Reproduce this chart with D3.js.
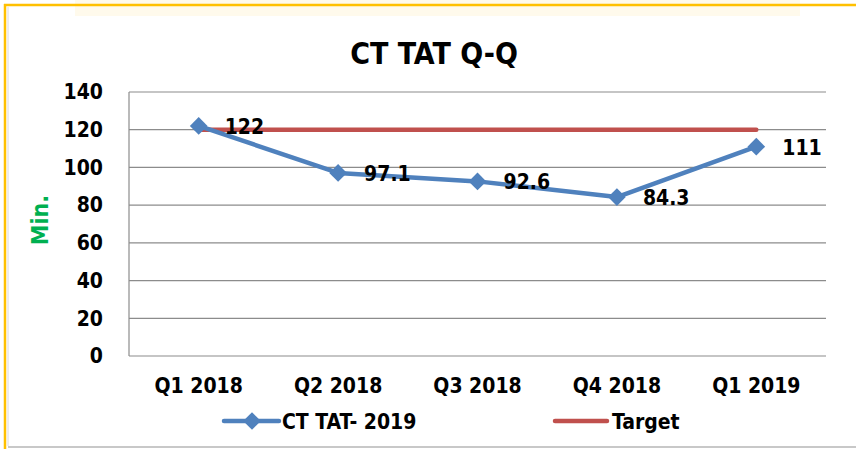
<!DOCTYPE html>
<html>
<head>
<meta charset="utf-8">
<script src="https://cdn.jsdelivr.net/npm/d3@7"></script>
<style>
  body { margin: 0; background: #fff; }
  text { font-family: "Liberation Sans Narrow", "DejaVu Sans Condensed", "Open Sans", sans-serif; font-weight: bold; }
</style>
</head>
<body>
<div id="chart"></div>
<script>
// data
const quarters = ["Q1 2018", "Q2 2018", "Q3 2018", "Q4 2018", "Q1 2019"];
const tatValues = [122, 97.1, 92.6, 84.3, 111];
const targetValues = [120, 120, 120, 120, 120];
const yTicks = [0, 20, 40, 60, 80, 100, 120, 140];

const W = 856, H = 449;
const margin = { top: 92, right: 30, bottom: 93, left: 129 };
const width = W - margin.left - margin.right;
const height = H - margin.top - margin.bottom;

const svg = d3.select("#chart").append("svg")
    .attr("width", W)
    .attr("height", H);

// frame: faint glow on top, gold border, grey shadow at bottom
svg.append("rect").attr("x", 75).attr("y", 0).attr("width", 725).attr("height", 16)
    .attr("fill", "#fffaec");
svg.append("line").attr("x1", 4).attr("x2", W).attr("y1", 5).attr("y2", 5)
    .attr("stroke", "#ffc000").attr("stroke-width", 2.5);
svg.append("line").attr("x1", 5).attr("x2", 5).attr("y1", 4).attr("y2", H)
    .attr("stroke", "#ffc000").attr("stroke-width", 2.5);
svg.append("line").attr("x1", 8).attr("x2", 8).attr("y1", 7).attr("y2", 446)
    .attr("stroke", "#d8d8e0").attr("stroke-width", 1);
svg.append("line").attr("x1", 8).attr("x2", W).attr("y1", 447).attr("y2", 447)
    .attr("stroke", "#c8c8c8").attr("stroke-width", 2);

// title
svg.append("text")
    .attr("x", 434)
    .attr("y", 64)
    .attr("text-anchor", "middle")
    .style("font-size", "30px")
    .text("CT TAT Q-Q");

const g = svg.append("g")
    .attr("transform", "translate(" + margin.left + "," + margin.top + ")");

const x = d3.scaleBand()
    .domain(quarters)
    .range([0, width]);

const y = d3.scaleLinear()
    .domain([0, 140])
    .range([height, 0]);

// gridlines
g.append("g")
    .selectAll("line")
    .data(yTicks.slice(1))
    .join("line")
    .attr("x1", 0)
    .attr("x2", width)
    .attr("y1", function(d){ return y(d); })
    .attr("y2", function(d){ return y(d); })
    .attr("stroke", "#8c8c8c")
    .attr("stroke-width", 1.2);

// axis lines
g.append("line").attr("x1", 0).attr("x2", 0).attr("y1", 0).attr("y2", height)
    .attr("stroke", "#8c8c8c").attr("stroke-width", 1.2);
g.append("line").attr("x1", 0).attr("x2", width).attr("y1", height).attr("y2", height)
    .attr("stroke", "#8c8c8c").attr("stroke-width", 1.2);

// y tick labels
const yAxis = g.append("g")
    .call(d3.axisLeft(y).tickValues(yTicks).tickSize(0).tickPadding(26));
yAxis.select(".domain").remove();
yAxis.selectAll("text")
    .style("font-size", "21px")
    .attr("fill", "#000");

// x tick labels
const xAxis = g.append("g")
    .attr("transform", "translate(0," + height + ")")
    .call(d3.axisBottom(x).tickSize(0).tickPadding(22));
xAxis.select(".domain").remove();
xAxis.selectAll("text")
    .style("font-size", "21px")
    .attr("fill", "#000");

// y title
svg.append("text")
    .attr("transform", "translate(48,220) rotate(-90)")
    .attr("text-anchor", "middle")
    .attr("fill", "#00b050")
    .style("font-size", "23px")
    .text("Min.");

const cx = function(d, i){ return x(quarters[i]) + x.bandwidth() / 2; };

// target line
g.append("path")
    .datum(targetValues)
    .attr("fill", "none")
    .attr("stroke", "#c0504d")
    .attr("stroke-width", 4.5)
    .attr("stroke-linecap", "round")
    .attr("d", d3.line().x(cx).y(function(d){ return y(d); }));

// TAT line
g.append("path")
    .datum(tatValues)
    .attr("fill", "none")
    .attr("stroke", "#4f81bd")
    .attr("stroke-width", 4.5)
    .attr("stroke-linejoin", "round")
    .attr("d", d3.line().x(cx).y(function(d){ return y(d); }));

const diamond = d3.symbol().type(d3.symbolDiamond2).size(200);

g.append("g")
    .selectAll("path")
    .data(tatValues)
    .join("path")
    .attr("transform", function(d, i){ return "translate(" + cx(d, i) + "," + y(d) + ")"; })
    .attr("d", diamond)
    .attr("fill", "#4f81bd");

// data labels
g.append("g")
    .selectAll("text")
    .data(tatValues)
    .join("text")
    .attr("x", function(d, i){ return cx(d, i) + 26; })
    .attr("y", function(d){ return y(d) + 8; })
    .style("font-size", "21px")
    .attr("fill", "#000")
    .text(function(d){ return d; });

// legend
const legend = svg.append("g");
legend.append("line").attr("x1", 224).attr("x2", 279).attr("y1", 421).attr("y2", 421)
    .attr("stroke", "#4f81bd").attr("stroke-width", 4.5).attr("stroke-linecap", "round");
legend.append("path").attr("transform", "translate(252,421)").attr("d", diamond)
    .attr("fill", "#4f81bd");
legend.append("text").attr("x", 282).attr("y", 429).style("font-size", "21px")
    .text("CT TAT- 2019");
legend.append("line").attr("x1", 555).attr("x2", 607).attr("y1", 421).attr("y2", 421)
    .attr("stroke", "#c0504d").attr("stroke-width", 4.5).attr("stroke-linecap", "round");
legend.append("text").attr("x", 612).attr("y", 429).style("font-size", "21px")
    .text("Target");
</script>
</body>
</html>
